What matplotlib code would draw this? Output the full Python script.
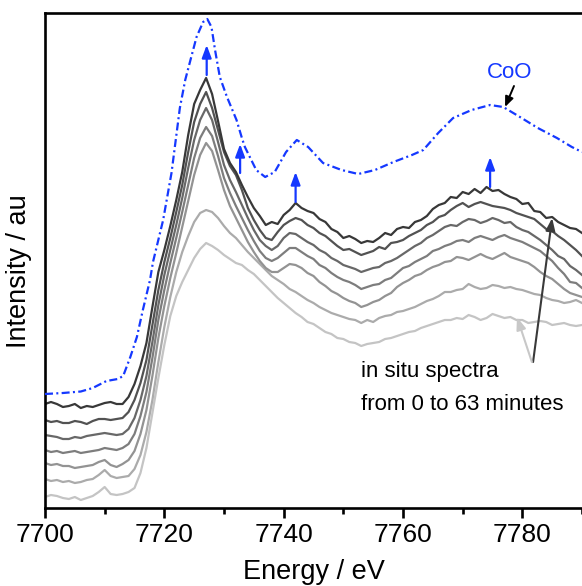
import matplotlib
matplotlib.use("Agg")
import matplotlib.pyplot as plt
from matplotlib.ticker import MultipleLocator

plt.rcParams['font.family'] = ['Liberation Sans', 'DejaVu Sans']

# ---------------- data (intensity in arbitrary units) ----------------
energy = list(range(7700, 7791))  # eV, 1 eV steps

spec_0 = [104, 106, 104, 101, 102, 104, 100, 102, 101, 103,
          105, 106, 104, 104, 111, 124, 142, 165, 201, 236,
          258, 282, 308, 336, 373, 404, 418, 430, 414, 387,
          359, 345, 336, 323, 311, 300, 292, 283, 286, 284,
          293, 298, 305, 300, 297, 295, 289, 286, 279, 276,
          270, 272, 269, 265, 267, 266, 270, 275, 273, 279,
          281, 280, 286, 288, 292, 299, 303, 305, 311, 310,
          316, 314, 319, 315, 321, 317, 318, 314, 311, 309,
          304, 305, 297, 296, 290, 291, 286, 283, 280, 279,
          275]
spec_1 = [88, 86, 87, 85, 85, 87, 86, 84, 87, 89,
          89, 88, 89, 90, 96, 108, 125, 148, 183, 218,
          246, 270, 296, 323, 356, 386, 404, 416, 400, 378,
          356, 342, 333, 318, 300, 288, 278, 270, 268, 276,
          283, 287, 290, 288, 283, 280, 275, 272, 267, 262,
          258, 259, 256, 253, 255, 257, 261, 259, 265, 266,
          268, 272, 275, 278, 283, 286, 291, 293, 298, 302,
          305, 301, 304, 306, 304, 302, 301, 300, 298, 295,
          293, 291, 289, 284, 279, 277, 272, 268, 263, 258,
          252]
spec_2 = [73, 72, 71, 69, 69, 71, 70, 72, 73, 74,
          75, 74, 73, 74, 79, 90, 108, 132, 166, 203,
          233, 258, 283, 310, 340, 368, 388, 400, 388, 366,
          343, 328, 316, 303, 290, 278, 268, 262, 258, 262,
          270, 275, 274, 270, 266, 263, 258, 255, 250, 247,
          243, 241, 239, 236, 238, 240, 241, 245, 247, 250,
          254, 258, 262, 265, 270, 273, 277, 281, 283, 282,
          286, 289, 288, 285, 287, 290, 288, 285, 286, 281,
          278, 276, 272, 268, 263, 258, 252, 249, 242, 238,
          233]
spec_3 = [58, 56, 57, 55, 56, 57, 55, 56, 57, 58,
          60, 59, 58, 60, 64, 74, 92, 116, 150, 188,
          218, 245, 270, 296, 323, 350, 370, 381, 372, 352,
          330, 315, 302, 290, 278, 267, 257, 250, 247, 250,
          255, 260, 260, 256, 252, 249, 243, 240, 235, 231,
          228, 226, 223, 219, 221, 223, 224, 228, 230, 235,
          240, 242, 246, 249, 252, 257, 259, 262, 264, 267,
          268, 266, 270, 272, 270, 268, 271, 273, 270, 268,
          266, 263, 260, 257, 252, 247, 240, 234, 226, 225,
          220]
spec_4 = [45, 43, 44, 42, 42, 40, 41, 42, 43, 46,
          48, 43, 41, 44, 48, 57, 74, 98, 132, 170,
          202, 230, 255, 281, 307, 333, 353, 365, 357, 338,
          318, 302, 290, 278, 266, 256, 247, 240, 236, 236,
          240, 244, 243, 240, 235, 232, 226, 222, 217, 214,
          210, 207, 205, 201, 203, 206, 208, 212, 215, 221,
          225, 228, 232, 234, 238, 241, 243, 246, 247, 251,
          250, 248, 251, 254, 251, 249, 252, 255, 251, 249,
          247, 245, 241, 236, 232, 229, 224, 219, 215, 213,
          211]
spec_5 = [29, 27, 28, 26, 27, 25, 26, 28, 29, 33,
          38, 32, 30, 31, 32, 39, 53, 76, 108, 146,
          181, 211, 236, 256, 272, 286, 295, 298, 296, 290,
          282, 275, 270, 263, 256, 250, 244, 238, 232, 228,
          224, 219, 216, 212, 208, 205, 201, 198, 195, 193,
          191, 189, 188, 185, 188, 186, 190, 192, 193, 196,
          197, 199, 201, 204, 207, 209, 212, 216, 216, 218,
          219, 224, 221, 219, 220, 223, 222, 220, 221, 219,
          218, 216, 214, 213, 210, 208, 207, 205, 206, 208,
          205]
spec_6 = [11, 13, 12, 10, 9, 11, 8, 10, 12, 16,
          21, 14, 13, 14, 16, 20, 35, 60, 95, 130,
          163, 192, 212, 226, 238, 250, 259, 265, 262, 258,
          253, 249, 245, 243, 238, 234, 228, 222, 216, 210,
          205, 200, 195, 191, 186, 184, 180, 176, 174, 170,
          169, 166, 165, 162, 164, 165, 166, 169, 170, 172,
          174, 176, 177, 180, 182, 184, 186, 188, 188, 190,
          189, 193, 191, 188, 190, 194, 192, 190, 191, 188,
          188, 185, 186, 187, 186, 183, 184, 185, 183, 182,
          183]

spectra = [spec_6, spec_5, spec_4, spec_3, spec_2, spec_1, spec_0]
spectra_colors = ['#c4c4c4', '#ababab', '#939393', '#7d7d7d', '#686868', '#525252', '#383838']

coo_energy = [7700, 7703, 7706, 7708, 7710.3, 7712.2, 7713.1, 7714.3, 7715.4,
              7716.4, 7717.6, 7718.1, 7719.8, 7721.2, 7722.6, 7723.5, 7724.6,
              7725.4, 7726.5, 7727.2, 7727.9, 7728.5, 7729.3, 7730.5, 7732.1,
              7733.0, 7733.5, 7735.4, 7736.9, 7738.5, 7740.4, 7742.2, 7744.1,
              7746.6, 7749.7, 7752.5, 7755.3, 7758.4, 7761.5, 7763.4, 7765.9,
              7768.4, 7771.5, 7774.6, 7776.8, 7779.6, 7782.6, 7785.8, 7788.3, 7790]
coo_intensity = [114, 115, 116.5, 120, 127, 129, 132, 151, 171,
                 198, 228, 246, 288, 335, 400, 428, 453,
                 471, 486, 489, 481, 458, 431, 411, 388,
                 370, 361, 338, 331, 336, 356, 368, 361,
                 345, 338, 334, 338, 346, 353, 358, 375,
                 390, 398, 403, 401, 391, 380, 370, 361, 356]

# blue "growth" arrows: energy, base, tip
arrow_energy = [7727.1, 7732.7, 7742.0, 7774.6]
arrow_base = [433, 335, 306, 321]
arrow_tip = [463, 364, 336, 351]

xticks = [7700, 7720, 7740, 7760, 7780]

BLUE = '#1538ff'

# ---------------- figure ----------------
fig = plt.figure(figsize=(5.82, 5.86), dpi=100)
ax = fig.add_axes([45 / 582, 78 / 586, 537 / 582, 495 / 586])

for y, c in zip(spectra, spectra_colors):
    ax.plot(energy, y, color=c, lw=1.6, solid_joinstyle='round', zorder=2)

ax.plot(coo_energy, coo_intensity, color=BLUE, lw=1.6,
        linestyle=(0, (3.6, 1.5, 0.9, 1.5)), zorder=3)

for e, b, t in zip(arrow_energy, arrow_base, arrow_tip):
    ax.annotate('', xy=(e, t), xytext=(e, b),
                arrowprops=dict(arrowstyle='-|>,head_length=0.75,head_width=0.28',
                                color=BLUE, lw=1.6, shrinkA=0, shrinkB=0),
                zorder=4)

# CoO label and arrow
ax.text(7777.8, 435, 'CoO', color=BLUE, fontsize=16, ha='center', va='center')
ax.annotate('', xy=(7777.1, 401), xytext=(7778.6, 422),
            arrowprops=dict(arrowstyle='-|>,head_length=0.6,head_width=0.25',
                            color='black', lw=1.4, shrinkA=0, shrinkB=0))

# in situ arrows
ax.annotate('', xy=(7785.0, 290), xytext=(7781.8, 146),
            arrowprops=dict(arrowstyle='-|>,head_length=0.75,head_width=0.28',
                            color='#3a3a3a', lw=1.5, shrinkA=0, shrinkB=0))
ax.annotate('', xy=(7779.1, 191), xytext=(7781.6, 146),
            arrowprops=dict(arrowstyle='-|>,head_length=0.75,head_width=0.28',
                            color='#c8c8c8', lw=1.5, shrinkA=0, shrinkB=0))

ax.text(7753.0, 131, 'in situ spectra', fontsize=16, ha='left', va='baseline')
ax.text(7753.0, 98, 'from 0 to 63 minutes', fontsize=16, ha='left', va='baseline')

# axes styling
ax.set_xlim(7700, 7790)
ax.set_ylim(0, 495)
ax.set_xticks(xticks)
ax.xaxis.set_minor_locator(MultipleLocator(10))
ax.set_yticks([])
ax.tick_params(axis='x', which='major', direction='out', length=7.5, width=1.9,
               labelsize=19, pad=3)
ax.tick_params(axis='x', which='minor', direction='out', length=4, width=1.9)
for side in ['left', 'bottom', 'top']:
    ax.spines[side].set_linewidth(1.9)
ax.spines['right'].set_visible(False)

ax.set_xlabel('Energy / eV', fontsize=19.5, labelpad=9)
ax.set_ylabel('Intensity / au', fontsize=19.5)
ax.yaxis.set_label_coords(-0.024, 0.478)

fig.savefig('out.png', dpi=100)
